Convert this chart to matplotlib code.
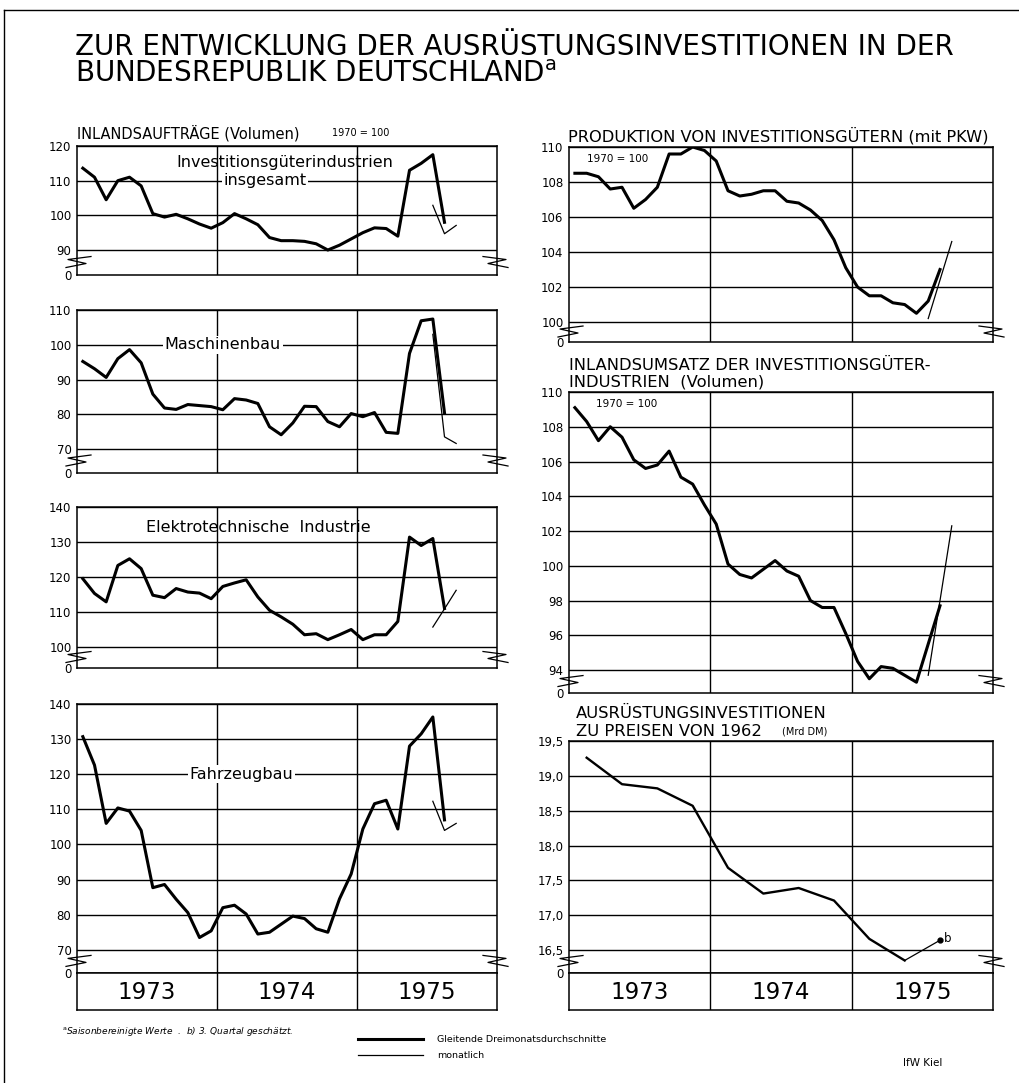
import numpy as np
import matplotlib
matplotlib.use("Agg")
import matplotlib.pyplot as plt
from matplotlib.lines import Line2D

# ---------------------------------------------------------------------------
# data, month index 0 = Jan 1973
# ---------------------------------------------------------------------------
YEARS = ["1973", "1974", "1975"]

# three-month moving averages, Jan 1973 .. Aug 1975
invest_total = [113.6, 111.0, 104.5, 110.0, 111.0, 108.5, 100.5, 99.5, 100.3, 99.0, 97.5, 96.3,
                97.9, 100.5, 99.0, 97.3, 93.6, 92.7, 92.7, 92.5, 91.8, 90.0, 91.4, 93.2,
                95.0, 96.4, 96.2, 94.0, 113.0, 115.0, 117.5, 98.0]
maschinenbau = [95.2, 93.1, 90.6, 96.0, 98.6, 94.8, 85.8, 81.8, 81.4, 82.8, 82.5, 82.2,
                81.3, 84.5, 84.1, 83.1, 76.4, 74.1, 77.5, 82.3, 82.2, 77.9, 76.4, 80.2,
                79.3, 80.5, 74.8, 74.5, 97.5, 106.9, 107.4, 80.4]
elektro = [119.5, 115.3, 112.9, 123.3, 125.2, 122.4, 114.8, 114.1, 116.7, 115.7, 115.4, 113.8,
           117.3, 118.3, 119.2, 114.3, 110.5, 108.6, 106.5, 103.5, 103.8, 102.1, 103.5, 105.0,
           102.1, 103.5, 103.5, 107.3, 131.4, 129.0, 131.0, 111.0]
fahrzeugbau = [130.7, 122.6, 106.0, 110.4, 109.5, 104.0, 87.7, 88.6, 84.4, 80.6, 73.5, 75.4,
               82.0, 82.7, 80.2, 74.5, 75.0, 77.3, 79.6, 78.9, 76.0, 75.0, 84.5, 91.6,
               104.4, 111.6, 112.6, 104.4, 128.0, 131.5, 136.3, 107.0]
produktion = [108.5, 108.5, 108.3, 107.6, 107.7, 106.5, 107.0, 107.7, 109.6, 109.6, 110.0, 109.8,
              109.2, 107.5, 107.2, 107.3, 107.5, 107.5, 106.9, 106.8, 106.4, 105.8, 104.7, 103.1,
              102.0, 101.5, 101.5, 101.1, 101.0, 100.5, 101.2, 103.0]
umsatz = [109.1, 108.3, 107.2, 108.0, 107.4, 106.1, 105.6, 105.8, 106.6, 105.1, 104.7, 103.5,
          102.4, 100.1, 99.5, 99.3, 99.8, 100.3, 99.7, 99.4, 98.0, 97.6, 97.6, 96.1,
          94.5, 93.5, 94.2, 94.1, 93.7, 93.3, 95.5, 97.7]

# monthly values, Jul .. Sep 1975
invest_total_m = [102.9, 94.7, 97.1]
maschinenbau_m = [103.0, 73.5, 71.6]
elektro_m = [105.7, 110.9, 116.2]
fahrzeugbau_m = [112.3, 104.0, 106.0]
produktion_m = [100.2, 102.4, 104.6]
umsatz_m = [93.7, 98.0, 102.3]

# quarterly, Mrd DM, Q1 1973 .. Q3 1975 (last one estimated)
ausruestung = [19.26, 18.88, 18.82, 18.57, 17.68, 17.31, 17.39, 17.21, 16.66, 16.35, 16.64]

months = np.arange(len(invest_total))
months_m = np.arange(30, 33)
quarters = np.arange(len(ausruestung)) * 3 + 1

# ---------------------------------------------------------------------------
W, H = 1019, 1083
fig = plt.figure(figsize=(W / 100, H / 100), dpi=100)
fig.patch.set_facecolor("white")


def fx(x):
    return x / W


def fy(y):
    return 1 - y / H


def add_box(left, top, right, bottom):
    return fig.add_axes([fx(left), fy(bottom), (right - left) / W, (bottom - top) / H])


def zigzag(ax, yval, side):
    # small break symbol between the lowest gridline and the zero line
    xa = 0 if side == "left" else 1
    xd, _ = ax.transAxes.transform((xa, 0))
    _, yd = ax.transData.transform((0, yval))
    s = -1 if side == "left" else 1
    pts = [(-s * 14, 6), (s * 9, 3), (-s * 9, -1), (s * 11, -5)]
    disp = [(xd + dx, yd + dy) for dx, dy in pts]
    f = fig.transFigure.inverted().transform(disp)
    fig.add_artist(Line2D(f[:, 0], f[:, 1], transform=fig.transFigure,
                          color="k", lw=0.9))


def panel(box, ylim, ticks, labels=None):
    ax = add_box(*box)
    ax.set_xlim(-0.5, 35.5)
    ax.set_ylim(*ylim)
    if labels is None:
        labels = [f"{t:g}" for t in ticks]
    ax.set_yticks([ylim[0]] + list(ticks))
    ax.set_yticklabels(["0"] + labels)
    ax.set_xticks([])
    ax.tick_params(axis="y", length=0, pad=4, labelsize=8.5)
    for t in ticks:
        ax.axhline(t, color="k", lw=1.0, zorder=1)
    for x in (11.5, 23.5):
        ax.axvline(x, color="k", lw=1.0, zorder=1)
    for s in ax.spines.values():
        s.set_linewidth(1.1)
    ymid = (ylim[0] + ticks[0]) / 2
    zigzag(ax, ymid, "left")
    zigzag(ax, ymid, "right")
    return ax


def year_band(left, right):
    ax = add_box(left, 973, right, 1010)
    ax.set_xlim(-0.5, 35.5)
    ax.set_ylim(0, 1)
    ax.set_xticks([])
    ax.set_yticks([])
    for x in (11.5, 23.5):
        ax.axvline(x, color="k", lw=1.0)
    for s in ax.spines.values():
        s.set_linewidth(1.1)
    for i, yr in enumerate(YEARS):
        ax.text(5.5 + 12 * i, 0.47, yr, ha="center", va="center", fontsize=16.5)
    return ax


def series(ax, smooth, monthly):
    ax.plot(months, smooth, color="k", lw=2.2, solid_joinstyle="round", zorder=3)
    ax.plot(months_m, monthly, color="k", lw=0.9, zorder=3)


LABEL_BOX = dict(facecolor="white", edgecolor="none", pad=1.2)
LBL = 11.5

# left column ---------------------------------------------------------------
ax1 = panel((77, 146, 497, 275), (82.8, 120), [90, 100, 110, 120])
series(ax1, invest_total, invest_total_m)
ax1.text(17.3, 115.2, "Investitionsgüterindustrien", ha="center", va="center", fontsize=LBL)
ax1.text(15.6, 110, "insgesamt", ha="center", va="center", fontsize=LBL, bbox=LABEL_BOX, zorder=2)

ax2 = panel((77, 310, 497, 473), (63.1, 110), [70, 80, 90, 100, 110])
series(ax2, maschinenbau, maschinenbau_m)
ax2.text(12.0, 100, "Maschinenbau", ha="center", va="center", fontsize=LBL, bbox=LABEL_BOX, zorder=2)

ax3 = panel((77, 507, 497, 668), (94, 140), [100, 110, 120, 130, 140])
series(ax3, elektro, elektro_m)
ax3.text(15.0, 134, "Elektrotechnische  Industrie", ha="center", va="center", fontsize=LBL)

ax4 = panel((77, 704, 497, 973), (63.4, 140), [70, 80, 90, 100, 110, 120, 130, 140])
series(ax4, fahrzeugbau, fahrzeugbau_m)
ax4.text(13.6, 120, "Fahrzeugbau", ha="center", va="center", fontsize=LBL, bbox=LABEL_BOX, zorder=2)

year_band(77, 497)

# right column --------------------------------------------------------------
ax5 = panel((569, 147, 993, 342), (98.86, 110), [100, 102, 104, 106, 108, 110])
series(ax5, produktion, produktion_m)
ax5.text(1.0, 109.3, "1970 = 100", ha="left", va="center", fontsize=7.5)

ax6 = panel((569, 392, 993, 693), (92.68, 110), [94, 96, 98, 100, 102, 104, 106, 108, 110])
series(ax6, umsatz, umsatz_m)
ax6.text(1.8, 109.3, "1970 = 100", ha="left", va="center", fontsize=7.5)

r3_ticks = [16.5, 17.0, 17.5, 18.0, 18.5, 19.0, 19.5]
ax7 = panel((569, 741, 993, 973), (16.17, 19.5), r3_ticks,
            labels=[f"{t:.1f}".replace(".", ",") for t in r3_ticks])
ax7.plot(quarters[:-1], ausruestung[:-1], color="k", lw=1.7, zorder=3)
ax7.plot(quarters[-2:], ausruestung[-2:], color="k", lw=0.9, zorder=3)
ax7.plot(quarters[-1], ausruestung[-1], "o", color="k", ms=3.5, zorder=4)
ax7.annotate("b", (quarters[-1], ausruestung[-1]), xytext=(3, 1),
             textcoords="offset points", fontsize=8.5, va="center")

year_band(569, 993)

# texts ---------------------------------------------------------------------
fig.text(fx(75), fy(47), "ZUR ENTWICKLUNG DER AUSRÜSTUNGSINVESTITIONEN IN DER",
         fontsize=20, va="center", ha="left")
fig.text(fx(75), fy(74), r"BUNDESREPUBLIK DEUTSCHLAND$^{\mathrm{a}}$",
         fontsize=20, va="center", ha="left")

fig.text(fx(77), fy(133), "INLANDSAUFTRÄGE (Volumen)", fontsize=10.5, va="center")
fig.text(fx(332), fy(133), "1970 = 100", fontsize=7, va="center")
fig.text(fx(568), fy(136), "PRODUKTION VON INVESTITIONSGÜTERN (mit PKW)", fontsize=11.7, va="center")
fig.text(fx(569), fy(365), "INLANDSUMSATZ DER INVESTITIONSGÜTER-", fontsize=11.8, va="center")
fig.text(fx(569), fy(382), "INDUSTRIEN  (Volumen)", fontsize=11.8, va="center")
fig.text(fx(576), fy(713), "AUSRÜSTUNGSINVESTITIONEN", fontsize=11.8, va="center")
fig.text(fx(576), fy(731), "ZU PREISEN VON 1962", fontsize=11.8, va="center")
fig.text(fx(782), fy(731), "(Mrd DM)", fontsize=7, va="center")

# footnotes and legend
fig.text(fx(62), fy(1032), r"$^{\mathrm{a}}$Saisonbereinigte Werte  .  b) 3. Quartal geschätzt.",
         fontsize=6.5, style="italic", va="center")
fig.add_artist(Line2D([fx(358), fx(423)], [fy(1039), fy(1039)], transform=fig.transFigure,
                      color="k", lw=2.2))
fig.add_artist(Line2D([fx(358), fx(423)], [fy(1055), fy(1055)], transform=fig.transFigure,
                      color="k", lw=0.9))
fig.text(fx(437), fy(1039), "Gleitende Dreimonatsdurchschnitte", fontsize=6.8, va="center")
fig.text(fx(437), fy(1055), "monatlich", fontsize=6.8, va="center")
fig.text(fx(903), fy(1063), "IfW Kiel", fontsize=7.5, va="center")

# page frame
fig.add_artist(Line2D([fx(4), fx(4)], [fy(10), fy(1083)], transform=fig.transFigure, color="k", lw=1.0))
fig.add_artist(Line2D([fx(4), fx(1019)], [fy(10), fy(10)], transform=fig.transFigure, color="k", lw=1.0))

fig.savefig("out.png", dpi=100)
